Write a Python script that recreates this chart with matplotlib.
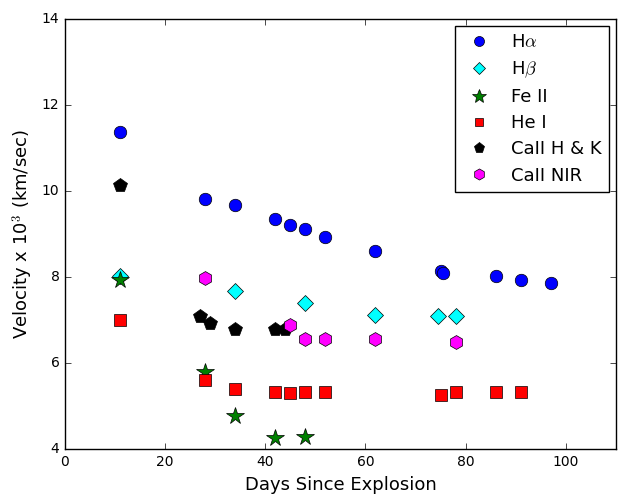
import numpy as np
import matplotlib
matplotlib.use("Agg")
import matplotlib.pyplot as plt

plt.style.use("classic")

# data
ha_days = [11, 28, 34, 42, 45, 48, 52, 62, 75, 75.5, 86, 91, 97]
ha_vel = [11.37, 9.82, 9.68, 9.36, 9.21, 9.12, 8.92, 8.60, 8.13, 8.09, 8.02, 7.93, 7.87]

hb_days = [11, 34, 48, 62, 74.5, 78]
hb_vel = [8.02, 7.67, 7.40, 7.12, 7.10, 7.10]

fe_days = [11, 28, 34, 42, 48]
fe_vel = [7.93, 5.79, 4.77, 4.25, 4.28]

he_days = [11, 28, 34, 42, 45, 48, 52, 75, 78, 86, 91]
he_vel = [7.00, 5.60, 5.40, 5.33, 5.30, 5.33, 5.33, 5.26, 5.33, 5.33, 5.32]

cahk_days = [11, 27, 29, 34, 42, 44]
cahk_vel = [10.13, 7.09, 6.93, 6.78, 6.79, 6.79]

canir_days = [28, 45, 48, 52, 62, 78]
canir_vel = [7.98, 6.88, 6.56, 6.56, 6.56, 6.50]

fig = plt.figure(figsize=(6.22, 4.94), dpi=100, facecolor="white")
ax = fig.add_axes([0.1045, 0.091, 0.8855, 0.8705])

ax.plot(ha_days, ha_vel, "o", color="blue", ms=9, mec="black", label=r"H$\alpha$")
ax.plot(hb_days, hb_vel, "D", color="cyan", ms=8, mec="black", label=r"H$\beta$")
ax.plot(fe_days, fe_vel, "*", color="green", ms=13, mec="black", label="Fe II")
ax.plot(he_days, he_vel, "s", color="red", ms=8, mec="black", label="He I")
ax.plot(cahk_days, cahk_vel, "p", color="black", ms=10, mec="black", label="CaII H & K")
ax.plot(canir_days, canir_vel, "h", color="magenta", ms=10, mec="black", label="CaII NIR")

ax.set_xlim(0, 110)
ax.set_ylim(4, 14)
ax.set_xticks(np.arange(0, 101, 20))
ax.set_yticks(np.arange(4, 15, 2))
ax.tick_params(labelsize=10)
ax.set_xlabel("Days Since Explosion", fontsize=13)
ax.set_ylabel(r"Velocity x 10$^3$ (km/sec)", fontsize=13)
ax.legend(loc="upper right", numpoints=1, fontsize=13, frameon=True,
          markerscale=0.8, labelspacing=0.45, borderaxespad=0.4,
          handlelength=1.9)

fig.savefig("out.png", dpi=100, facecolor="white")
